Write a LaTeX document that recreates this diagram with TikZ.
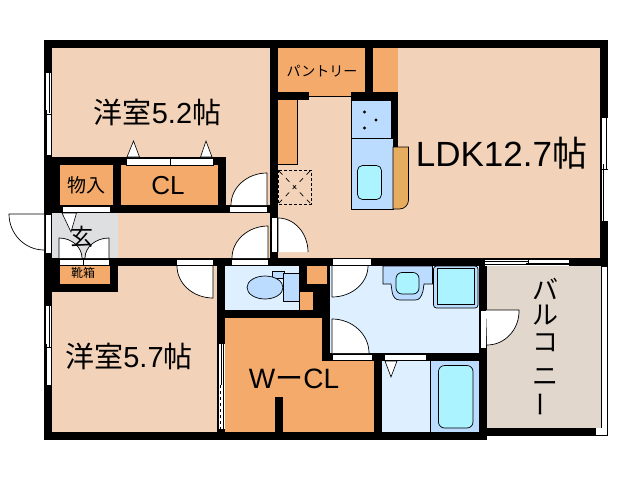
\documentclass[tikz,border=0pt]{standalone}
\usepackage{fontspec}
\setmainfont{Liberation Sans}
\newfontfamily\cjk{Noto Sans CJK JP}
\definecolor{peach}{HTML}{F2D2B8}
\definecolor{ora}{HTML}{F3AA6B}
\definecolor{gen}{HTML}{DEDFE1}
\definecolor{lblue}{HTML}{DEF0FF}
\definecolor{mblue}{HTML}{BBDCFF}
\definecolor{cyanb}{HTML}{AAF3FF}
\definecolor{balc}{HTML}{E1D7CD}
\definecolor{ctr}{HTML}{E6AD60}
\newcommand\jp[1]{{\cjk #1}}
\newcommand\fs[1]{\fontsize{#1}{#1}\selectfont}
\newcommand\wall[4]{\fill[black] (#1,#2) rectangle (#3,#4);}
\newcommand\room[5]{\fill[#1] (#2,#3) rectangle (#4,#5);}
\newcommand\strip[4]{\filldraw[stripbox] (#1,#2) rectangle (#3,#4);}
\newcommand\doorq[6]{%
  \pgfmathsetmacro\cax{#3+0.55*(#5-#1)}\pgfmathsetmacro\cay{#4+0.55*(#6-#2)}%
  \pgfmathsetmacro\cbx{#5+0.55*(#3-#1)}\pgfmathsetmacro\cby{#6+0.55*(#4-#2)}%
  \fill[white] (#1,#2) -- (#3,#4) .. controls (\cax,\cay) and (\cbx,\cby) .. (#5,#6) -- cycle;
  \draw[thinl] (#1,#2) -- (#3,#4) .. controls (\cax,\cay) and (\cbx,\cby) .. (#5,#6);}
\tikzset{
  thinl/.style={black,line width=0.7pt},
  stripbox/.style={fill=white,draw=black,line width=0.6pt},
  track/.style={black,line width=0.9pt},
  lbl/.style={inner sep=0pt,text=black},
  pieceb/.style={draw=black,line width=0.7pt}
}
\begin{document}
\begin{tikzpicture}[x=1pt,y=-1pt]
\useasboundingbox (0,0) rectangle (638,480);
\fill[white] (0,0) rectangle (638,480);
% room floors
\room{peach}{52}{48}{272}{208}
\room{peach}{118}{210}{270}{260}
\room{gen}{52}{210}{118}{260}
\room{peach}{278}{48}{600}{260}
\room{peach}{52}{262}{220}{434}
\room{lblue}{225}{262}{302}{312}
\room{ora}{225}{316}{376}{434}
\room{lblue}{328}{262}{481}{355}
\room{lblue}{380}{359}{432}{434}
\room{mblue}{430}{359}{481}{434}
\room{balc}{485}{262}{601}{430}
% fitted storage
\room{ora}{60}{163}{115}{207}
\room{ora}{119}{163}{220}{207}
\room{ora}{58}{264}{112}{286}
\room{ora}{278}{48}{398}{96}
\room{ora}{278}{98}{297}{164}
\draw[thinl] (297,100) -- (297,164) -- (278,164);
% walls
\wall{44}{40}{608}{48}
\wall{44}{40}{52}{213}
\wall{44}{157}{226}{165}
\wall{113}{165}{121}{205}
\wall{218}{165}{226}{205}
\wall{44}{165}{60}{205}
\wall{44}{205}{278}{213}
\wall{270}{40}{278}{266}
\wall{600}{40}{608}{266}
\wall{44}{213}{52}{292}
\wall{44}{258}{608}{266}
\wall{44}{266}{60}{292}
\wall{60}{284}{118}{292}
\wall{110}{266}{118}{292}
\wall{44}{292}{52}{440}
\wall{44}{432}{487}{440}
\wall{217}{266}{225}{440}
\wall{225}{310}{330}{318}
\wall{299}{266}{330}{318}
\wall{322}{318}{330}{361}
\wall{330}{353}{487}{361}
\wall{374}{361}{382}{440}
\wall{479}{266}{487}{440}
\wall{275}{397}{283}{432}
\wall{487}{428}{596}{436}
\wall{365}{48}{373}{92}
\wall{278}{92}{309}{100}
\wall{351}{92}{398}{100}
\wall{391}{100}{398}{147}
\room{ora}{307}{266}{327}{284}
\room{ora}{300}{292}{313}{310}
\draw[thinl] (309,96) -- (351,96);
% balcony edge
\filldraw[fill=white,draw=black,line width=0.7pt] (601,266) rectangle (607.5,435);
\filldraw[fill=white,draw=white] (596,428.5) rectangle (607,434.5);
\draw[thinl] (596,435) -- (607.5,435) -- (607.5,266);
\draw[thinl] (601,266) -- (601,428);
% closet doors and triangles
\strip{126}{158}{170}{165}
\strip{170}{158}{213.5}{165}
\filldraw[fill=white,draw=black,line width=0.6pt] (127,157) -- (133.5,141) -- (139.5,157) -- cycle;
\filldraw[fill=white,draw=black,line width=0.6pt] (200.5,157) -- (206,141) -- (212,157) -- cycle;
% door strips
\strip{62}{206}{110}{212}
\strip{229}{206}{267}{212}
\strip{59}{259}{83}{265}
\strip{83}{259}{109}{265}
\strip{176}{259}{213}{265}
\strip{231}{259}{268}{265}
\strip{271}{217}{277}{252}
\strip{45}{214}{51}{253}
\strip{332}{258.5}{371}{265.5}
\strip{332}{354}{372}{360}
\strip{384}{354}{426}{360}
\strip{480}{310}{486}{348}
% door leaves
\doorq{267}{205}{267}{173}{231}{205}
\doorq{44}{214}{9}{214}{44}{250}
\doorq{268}{258}{268}{226}{232}{258}
\doorq{278}{252}{278}{218}{308}{252}
\doorq{213}{266}{213}{298}{177}{266}
\doorq{332}{266}{332}{297}{368}{266}
\doorq{332}{353}{332}{319}{369}{353}
\doorq{486}{310}{519}{310}{487}{345}
\doorq{59}{258}{59}{238}{82}{258}
\doorq{109}{258}{109}{238}{85}{258}
\filldraw[fill=white,draw=black,line width=0.6pt] (62,213) -- (71,232) -- (76.5,213) -- cycle;
\filldraw[fill=white,draw=black,line width=0.6pt] (385,361) -- (391,377) -- (397,361) -- cycle;
% windows
\fill[white] (44.5,73) rectangle (51,155);
\draw[track] (45,73) -- (45,155) (49.5,73) -- (49.5,113) (46.8,110) -- (46.8,155) (44.5,114) -- (51,114);
\fill[white] (44.5,306) rectangle (51,385);
\draw[track] (45,306) -- (45,385) (49.5,306) -- (49.5,347) (46.8,344) -- (46.8,385) (44.5,347) -- (51,347);
\fill[white] (601,118) rectangle (607.5,221);
\draw[track] (601.5,118) -- (601.5,221) (606,118) -- (606,170) (603,164) -- (603,221) (601,169) -- (607.5,169);
\fill[white] (218,344) rectangle (224.5,429);
\draw[track] (218.5,344) -- (218.5,429) (223.5,344) -- (223.5,429);
\draw[track] (221,344) -- (221,385);
\draw[track,dash pattern=on 3pt off 3pt] (220.5,385) -- (220.5,429);
\fill[white] (485,258.5) rectangle (569,265.5);
\draw[track] (485,259) -- (569,259) (485,264.5) -- (569,264.5) (485,261) -- (528,261) (526,263) -- (569,263) (528,259) -- (528,265);
% kitchen
\draw[line width=0.9pt,black,dashed,dash pattern=on 3pt off 2pt] (278,170) rectangle (311,204);
\draw[line width=0.7pt,black,dash pattern=on 5pt off 5pt] (279,171) -- (310,203) (310,171) -- (279,203);
\filldraw[fill=mblue,pieceb] (351,100) rectangle (391.5,138);
\filldraw[fill=mblue,pieceb] (351,138) rectangle (393,209);
\filldraw[fill=cyanb,pieceb,rounded corners=5pt] (357.5,165.5) rectangle (381.5,199.5);
\fill[black] (364.5,112) circle (1.6) (376,120) circle (1.6) (364.5,128) circle (1.6);
\filldraw[fill=ctr,pieceb] (393,147) -- (408.5,147) -- (408.5,200) .. controls (408.5,205) and (404.5,209) .. (399.5,209) -- (393,209) -- cycle;
% toilet
\filldraw[fill=mblue,pieceb] (272,271) rectangle (284,278);
\filldraw[fill=mblue,pieceb] (265,287.5) ellipse [x radius=18,y radius=11.5];
\filldraw[fill=mblue,pieceb] (283.5,273.5) rectangle (299,301);
% washbasin
\filldraw[fill=mblue,pieceb] (383,266) -- (432.5,266) -- (432.5,284) -- (424,284) -- (423,291) .. controls (421,298) and (419,300) .. (415,300) -- (400,300) .. controls (396,300) and (393,298) .. (392,291) -- (391,284) -- (383,284) -- cycle;
\filldraw[fill=cyanb,pieceb,rounded corners=6pt] (396,272.5) rectangle (419,294);
% washer pan
\filldraw[fill=mblue,pieceb,rounded corners=3pt] (433.5,266) rectangle (478,308);
\filldraw[fill=cyanb,pieceb] (437.5,268.5) rectangle (474,304);
% bath
\draw[thinl] (430.5,361) -- (430.5,432);
\filldraw[fill=cyanb,pieceb,rounded corners=6pt] (438.5,365.5) rectangle (473,428);
% labels
\node[lbl] (r1) at (157.5,112) {\fs{29}\jp{洋室}5.2\jp{帖}};
\node[lbl] (r2) at (129,356) {\fs{29}\jp{洋室}5.7\jp{帖}};
\node[lbl] (ldk) at (501.5,153) {\fs{35}LDK12.7\jp{帖}};
\node[lbl] (cl) at (168,186) {\fs{26}CL};
\node[lbl] (mono) at (86,185) {\fs{19}\jp{物入}};
\node[lbl] (genk) at (82,237) {\fs{23}\jp{玄}};
\node[lbl] (shoe) at (83,273) {\fs{12}\jp{靴箱}};
\node[lbl] (pantry) at (322,71) {\fs{14}\jp{パントリー}};
\node[lbl] (wcl) at (294,379) {\fs{28}W\jp{ー}CL};
\node[lbl] (b1) at (545,289) {\fs{26}\jp{バ}};
\node[lbl] (b2) at (545,315) {\fs{26}\jp{ル}};
\node[lbl] (b3) at (545,343) {\fs{26}\jp{コ}};
\node[lbl] (b4) at (545,377) {\fs{26}\jp{ニ}};
\node[lbl,rotate=90] (b5) at (545,404) {\fs{26}\jp{ー}};
\end{tikzpicture}
\end{document}
